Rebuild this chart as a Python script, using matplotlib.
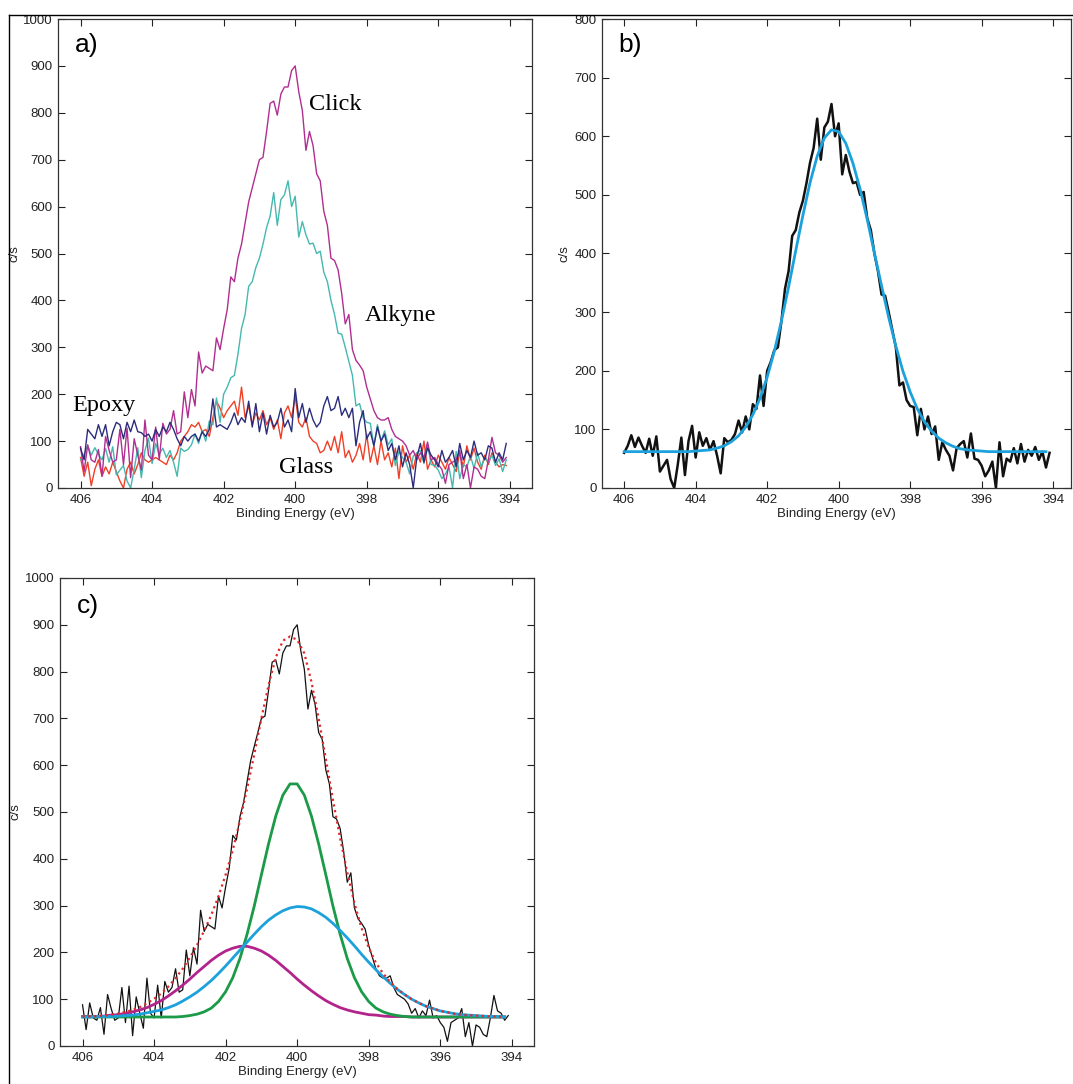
import numpy as np
import matplotlib
matplotlib.use("Agg")
import matplotlib.pyplot as plt
from matplotlib.lines import Line2D

plt.rcParams['font.family'] = ['Liberation Sans', 'DejaVu Sans']

# ---------------- data ----------------
energy = np.round(np.arange(406.0, 394.05, -0.1), 1)          # 120 points, 406.0 ... 394.1
fit_energy = np.round(np.arange(406.0, 394.15, -0.2), 1)      # 60 points, 406.0 ... 394.2

click = [
    88, 35, 92, 60, 55, 82, 25, 110, 80, 55,
    60, 125, 50, 128, 22, 105, 70, 38, 145, 70,
    60, 130, 60, 138, 115, 125, 165, 115, 120, 205,
    150, 210, 175, 290, 245, 260, 255, 250, 320, 295,
    340, 380, 450, 440, 490, 520, 565, 610, 640, 670,
    700, 705, 760, 820, 825, 795, 840, 855, 855, 890,
    900, 845, 805, 720, 760, 730, 670, 655, 590, 560,
    490, 485, 465, 415, 350, 370, 295, 272, 262, 250,
    215, 190, 165, 150, 145, 145, 150, 125, 110, 105,
    100, 90, 70, 80, 60, 75, 65, 98, 60, 65,
    50, 40, 10, 50, 55, 60, 80, 20, 50, 0,
    45, 40, 25, 20, 60, 108, 75, 70, 55, 65,
]

alkyne = [
    60, 72, 90, 70, 86, 72, 60, 84, 55, 88,
    28, 38, 48, 15, 0, 40, 86, 22, 80, 106,
    52, 95, 72, 85, 65, 80, 55, 25, 85, 78,
    82, 92, 115, 95, 122, 100, 143, 135, 192, 140,
    200, 215, 235, 240, 285, 340, 370, 430, 440, 470,
    490, 520, 555, 580, 630, 560, 615, 625, 655, 600,
    622, 535, 568, 540, 520, 522, 500, 505, 460, 440,
    400, 370, 330, 328, 300, 270, 240, 175, 180, 150,
    140, 138, 90, 135, 100, 122, 92, 105, 48, 78,
    65, 55, 30, 68, 75, 80, 52, 93, 50, 48,
    38, 20, 30, 45, 0, 78, 20, 50, 45, 68,
    42, 75, 45, 65, 55, 70, 48, 62, 35, 60,
]

epoxy = [
    85, 60, 125, 115, 105, 135, 110, 135, 90, 120,
    140, 135, 105, 140, 120, 145, 120, 118, 110, 115,
    100, 125, 110, 130, 120, 140, 125, 105, 90, 110,
    100, 110, 115, 100, 120, 110, 125, 190, 130, 135,
    130, 125, 140, 160, 135, 150, 140, 185, 130, 180,
    120, 160, 115, 155, 130, 140, 170, 130, 145, 120,
    212, 150, 180, 140, 170, 145, 130, 140, 175, 195,
    165, 170, 195, 155, 170, 150, 170, 90, 140, 165,
    105, 120, 90, 130, 100, 115, 80, 95, 60, 90,
    45, 75, 50, 0, 65, 95, 55, 85, 70, 60,
    45, 80, 55, 65, 80, 45, 95, 60, 80, 65,
    100, 70, 75, 60, 90, 85, 55, 75, 60, 95,
]

glass = [
    65, 25, 55, 5, 40, 60, 25, 45, 30, 55,
    35, 15, 0, 40, 55, 30, 50, 75, 60, 55,
    60, 65, 60, 55, 50, 70, 60, 75, 100, 110,
    120, 135, 130, 140, 120, 125, 110, 150, 185, 170,
    150, 165, 175, 185, 155, 215, 150, 175, 135, 160,
    145, 165, 135, 150, 125, 145, 105, 160, 175, 150,
    195, 140, 130, 150, 110, 100, 95, 75, 80, 100,
    80, 110, 75, 120, 65, 80, 55, 70, 95, 60,
    115, 55, 90, 50, 100, 60, 75, 45, 85, 20,
    90, 55, 70, 40, 75, 55, 100, 40, 60, 45,
    70, 55, 40, 65, 50, 35, 75, 45, 90, 60,
    85, 55, 40, 70, 50, 75, 55, 45, 50, 48,
]

# fitted curves read from panels b) and c) (0.2 eV grid)
fit_b = [
    62, 62, 62, 62, 62, 62, 62, 62, 62, 62,
    63, 64, 65, 68, 72, 79, 89, 104, 125, 153,
    189, 233, 285, 343, 405, 465, 521, 566, 597, 611,
    608, 588, 554, 510, 458, 401, 345, 291, 242, 199,
    164, 135, 113, 97, 85, 77, 71, 67, 65, 64,
    63, 62, 62, 62, 62, 62, 62, 62, 62, 62,
]

comp_green = [
    62, 62, 62, 62, 62, 62, 62, 62, 62, 62,
    62, 62, 62, 62, 63, 65, 68, 73, 81, 95,
    116, 146, 187, 239, 299, 366, 432, 491, 536, 560,
    560, 536, 491, 432, 366, 299, 239, 187, 146, 116,
    95, 81, 73, 68, 65, 63, 62, 62, 62, 62,
    62, 62, 62, 62, 62, 62, 62, 62, 62, 62,
]

comp_cyan = [
    62, 62, 63, 63, 63, 64, 65, 66, 68, 71,
    74, 77, 82, 88, 96, 105, 115, 127, 140, 155,
    171, 188, 205, 222, 239, 255, 269, 280, 289, 295,
    298, 297, 293, 285, 275, 262, 247, 231, 214, 196,
    179, 163, 148, 134, 121, 110, 100, 92, 85, 80,
    75, 72, 69, 67, 66, 65, 64, 63, 63, 62,
]

comp_magenta = [
    63, 63, 63, 64, 66, 67, 70, 73, 77, 82,
    89, 97, 107, 118, 130, 143, 157, 170, 183, 194,
    203, 209, 213, 213, 209, 203, 194, 183, 170, 157,
    143, 130, 118, 107, 97, 89, 82, 77, 73, 70,
    67, 66, 64, 63, 63, 63, 62, 62, 62, 62,
    62, 62, 62, 62, 62, 62, 62, 62, 62, 62,
]

envelope = [
    63, 63, 64, 65, 67, 69, 73, 77, 83, 91,
    101, 112, 127, 145, 165, 189, 216, 246, 280, 320,
    366, 419, 481, 550, 623, 700, 771, 830, 866, 875,
    868, 839, 778, 700, 614, 526, 444, 371, 305, 252,
    210, 178, 155, 137, 122, 110, 100, 92, 85, 80,
    75, 72, 69, 67, 66, 65, 64, 63, 63, 62,
]

x_ticks = [406, 404, 402, 400, 398, 396, 394]

# ---------------- figure ----------------
W, H = 1073, 1084
fig = plt.figure(figsize=(W / 100, H / 100), dpi=100)


def px_axes(left, top, right, bottom):
    return fig.add_axes([left / W, 1 - bottom / H, (right - left) / W, (bottom - top) / H])


ax_a = px_axes(58, 19, 532, 488)
ax_b = px_axes(602, 19, 1071, 488)
ax_c = px_axes(60, 578, 534, 1046)

tick_fs = 9.5
TXT = '#222222'


def style(ax, ymax, xlim):
    ax.set_xlim(*xlim)
    ax.set_ylim(0, ymax)
    ax.set_xticks(x_ticks)
    ax.set_yticks(np.arange(0, ymax + 1, 100))
    ax.tick_params(direction='in', top=True, right=True, length=5, width=0.8,
                   labelsize=tick_fs, pad=4, colors=TXT)
    for s in ax.spines.values():
        s.set_linewidth(0.9)
        s.set_color('#333333')
    ax.set_xlabel('Binding Energy (eV)', fontsize=tick_fs, labelpad=2, color=TXT)
    ax.set_ylabel('c/s', fontsize=tick_fs, color=TXT)


# panel a
ax_a.plot(energy, glass, color='#EE4027', lw=1.0)
ax_a.plot(energy, alkyne, color='#45B8B0', lw=1.0)
ax_a.plot(energy, click, color='#B02E90', lw=1.0)
ax_a.plot(energy, epoxy, color='#2C2C7C', lw=1.0)
style(ax_a, 1000, (406.63, 393.38))
ax_a.yaxis.set_label_coords(-0.079, 0.5)
ax_a.text(0.035, 0.945, 'a)', transform=ax_a.transAxes, fontsize=19, va='center', ha='left')
serif = ['Liberation Serif', 'DejaVu Serif']
ax_a.text(399.6, 818, 'Click', fontsize=17.5, family=serif, va='center', ha='left')
ax_a.text(398.05, 368, 'Alkyne', fontsize=17.5, family=serif, va='center', ha='left')
ax_a.text(406.22, 176, 'Epoxy', fontsize=17.5, family=serif, va='center', ha='left')
ax_a.text(400.45, 44, 'Glass', fontsize=17.5, family=serif, va='center', ha='left')

# panel b
ax_b.plot(energy, alkyne, color='#111111', lw=1.8)
ax_b.plot(fit_energy, fit_b, color='#1BA1DB', lw=2.0)
style(ax_b, 800, (406.62, 393.5))
ax_b.yaxis.set_label_coords(-0.068, 0.5)
ax_b.text(0.034, 0.945, 'b)', transform=ax_b.transAxes, fontsize=19, va='center', ha='left')

# panel c
ax_c.plot(energy, click, color='#111111', lw=0.9)
ax_c.plot(fit_energy, comp_magenta, color='#B3238C', lw=2.0)
ax_c.plot(fit_energy, comp_green, color='#1B9A48', lw=2.0)
ax_c.plot(fit_energy, comp_cyan, color='#1BA1DB', lw=2.0)
ax_c.plot(fit_energy, envelope, color='#E0282A', lw=1.6, ls=(0, (1, 1.6)))
style(ax_c, 1000, (406.63, 393.38))
ax_c.yaxis.set_label_coords(-0.082, 0.5)
ax_c.text(0.036, 0.94, 'c)', transform=ax_c.transAxes, fontsize=19, va='center', ha='left')

# page border lines seen in the scan
fig.add_artist(Line2D([9 / W, 1.0], [1 - 15 / H, 1 - 15 / H], color='black', lw=1.0))
fig.add_artist(Line2D([9 / W, 9 / W], [0.0, 1 - 15 / H], color='black', lw=1.0))

fig.savefig('out.png', dpi=100)
